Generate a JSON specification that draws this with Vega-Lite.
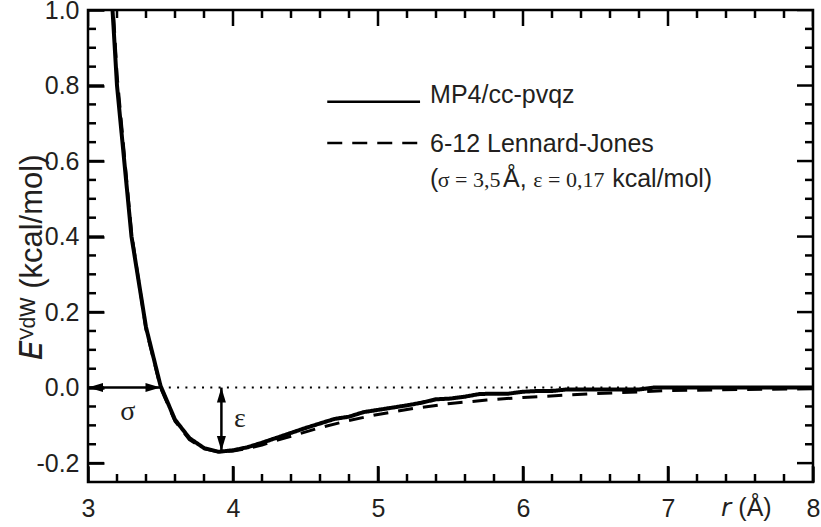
{
  "$schema": "https://vega.github.io/schema/vega-lite/v6.json",
  "width": 725,
  "height": 472,
  "autosize": {"type": "none"},
  "padding": {"left": 88, "top": 10, "right": 8, "bottom": 45},
  "background": "white",
  "config": {"view": {"stroke": "black", "strokeWidth": 2.5}, "font": "Liberation Sans", "axis": {"grid": false, "domain": false, "tickColor": "black", "tickWidth": 2.5}},
  "datasets": {
    "curves": [
      {"x": 3.1, "y": 1.45, "series": "MP4/cc-pvqz"},
      {"x": 3.2, "y": 0.80, "series": "MP4/cc-pvqz"},
      {"x": 3.3, "y": 0.40, "series": "MP4/cc-pvqz"},
      {"x": 3.4, "y": 0.16, "series": "MP4/cc-pvqz"},
      {"x": 3.5, "y": 0.005, "series": "MP4/cc-pvqz"},
      {"x": 3.6, "y": -0.085, "series": "MP4/cc-pvqz"},
      {"x": 3.7, "y": -0.134, "series": "MP4/cc-pvqz"},
      {"x": 3.8, "y": -0.160, "series": "MP4/cc-pvqz"},
      {"x": 3.9, "y": -0.170, "series": "MP4/cc-pvqz"},
      {"x": 4.0, "y": -0.166, "series": "MP4/cc-pvqz"},
      {"x": 4.1, "y": -0.158, "series": "MP4/cc-pvqz"},
      {"x": 4.2, "y": -0.146, "series": "MP4/cc-pvqz"},
      {"x": 4.3, "y": -0.133, "series": "MP4/cc-pvqz"},
      {"x": 4.4, "y": -0.120, "series": "MP4/cc-pvqz"},
      {"x": 4.5, "y": -0.107, "series": "MP4/cc-pvqz"},
      {"x": 4.6, "y": -0.095, "series": "MP4/cc-pvqz"},
      {"x": 4.7, "y": -0.083, "series": "MP4/cc-pvqz"},
      {"x": 4.8, "y": -0.077, "series": "MP4/cc-pvqz"},
      {"x": 4.9, "y": -0.065, "series": "MP4/cc-pvqz"},
      {"x": 5.0, "y": -0.059, "series": "MP4/cc-pvqz"},
      {"x": 5.1, "y": -0.053, "series": "MP4/cc-pvqz"},
      {"x": 5.2, "y": -0.047, "series": "MP4/cc-pvqz"},
      {"x": 5.3, "y": -0.040, "series": "MP4/cc-pvqz"},
      {"x": 5.4, "y": -0.031, "series": "MP4/cc-pvqz"},
      {"x": 5.5, "y": -0.029, "series": "MP4/cc-pvqz"},
      {"x": 5.6, "y": -0.024, "series": "MP4/cc-pvqz"},
      {"x": 5.7, "y": -0.017, "series": "MP4/cc-pvqz"},
      {"x": 5.8, "y": -0.016, "series": "MP4/cc-pvqz"},
      {"x": 5.9, "y": -0.016, "series": "MP4/cc-pvqz"},
      {"x": 6.0, "y": -0.011, "series": "MP4/cc-pvqz"},
      {"x": 6.1, "y": -0.009, "series": "MP4/cc-pvqz"},
      {"x": 6.2, "y": -0.009, "series": "MP4/cc-pvqz"},
      {"x": 6.3, "y": -0.005, "series": "MP4/cc-pvqz"},
      {"x": 6.5, "y": -0.005, "series": "MP4/cc-pvqz"},
      {"x": 6.8, "y": -0.005, "series": "MP4/cc-pvqz"},
      {"x": 6.9, "y": 0.0, "series": "MP4/cc-pvqz"},
      {"x": 7.5, "y": 0.0, "series": "MP4/cc-pvqz"},
      {"x": 8.0, "y": 0.0, "series": "MP4/cc-pvqz"},
      {"x": 3.1, "y": 1.508, "series": "6-12 Lennard-Jones"},
      {"x": 3.2, "y": 0.829, "series": "6-12 Lennard-Jones"},
      {"x": 3.3, "y": 0.410, "series": "6-12 Lennard-Jones"},
      {"x": 3.4, "y": 0.154, "series": "6-12 Lennard-Jones"},
      {"x": 3.5, "y": 0.0, "series": "6-12 Lennard-Jones"},
      {"x": 3.6, "y": -0.089, "series": "6-12 Lennard-Jones"},
      {"x": 3.7, "y": -0.138, "series": "6-12 Lennard-Jones"},
      {"x": 3.8, "y": -0.162, "series": "6-12 Lennard-Jones"},
      {"x": 3.9, "y": -0.170, "series": "6-12 Lennard-Jones"},
      {"x": 4.0, "y": -0.168, "series": "6-12 Lennard-Jones"},
      {"x": 4.1, "y": -0.161, "series": "6-12 Lennard-Jones"},
      {"x": 4.2, "y": -0.152, "series": "6-12 Lennard-Jones"},
      {"x": 4.3, "y": -0.140, "series": "6-12 Lennard-Jones"},
      {"x": 4.4, "y": -0.129, "series": "6-12 Lennard-Jones"},
      {"x": 4.6, "y": -0.106, "series": "6-12 Lennard-Jones"},
      {"x": 4.8, "y": -0.087, "series": "6-12 Lennard-Jones"},
      {"x": 5.0, "y": -0.071, "series": "6-12 Lennard-Jones"},
      {"x": 5.25, "y": -0.055, "series": "6-12 Lennard-Jones"},
      {"x": 5.5, "y": -0.042, "series": "6-12 Lennard-Jones"},
      {"x": 5.75, "y": -0.033, "series": "6-12 Lennard-Jones"},
      {"x": 6.0, "y": -0.026, "series": "6-12 Lennard-Jones"},
      {"x": 6.5, "y": -0.016, "series": "6-12 Lennard-Jones"},
      {"x": 7.0, "y": -0.008, "series": "6-12 Lennard-Jones"},
      {"x": 7.5, "y": -0.005, "series": "6-12 Lennard-Jones"},
      {"x": 8.0, "y": -0.003, "series": "6-12 Lennard-Jones"}
    ],
    "xticks": [
      {"x": 3, "kind": "major"}, {"x": 3.2, "kind": "minor"}, {"x": 3.4, "kind": "minor"}, {"x": 3.6, "kind": "minor"}, {"x": 3.8, "kind": "minor"},
      {"x": 4, "kind": "major"}, {"x": 4.2, "kind": "minor"}, {"x": 4.4, "kind": "minor"}, {"x": 4.6, "kind": "minor"}, {"x": 4.8, "kind": "minor"},
      {"x": 5, "kind": "major"}, {"x": 5.2, "kind": "minor"}, {"x": 5.4, "kind": "minor"}, {"x": 5.6, "kind": "minor"}, {"x": 5.8, "kind": "minor"},
      {"x": 6, "kind": "major"}, {"x": 6.2, "kind": "minor"}, {"x": 6.4, "kind": "minor"}, {"x": 6.6, "kind": "minor"}, {"x": 6.8, "kind": "minor"},
      {"x": 7, "kind": "major"}, {"x": 7.2, "kind": "minor"}, {"x": 7.4, "kind": "minor"}, {"x": 7.6, "kind": "minor"}, {"x": 7.8, "kind": "minor"},
      {"x": 8, "kind": "major"}
    ],
    "yticks": [
      {"y": -0.2, "kind": "major"}, {"y": -0.15, "kind": "minor"}, {"y": -0.1, "kind": "minor"}, {"y": -0.05, "kind": "minor"},
      {"y": 0, "kind": "major"}, {"y": 0.05, "kind": "minor"}, {"y": 0.1, "kind": "minor"}, {"y": 0.15, "kind": "minor"},
      {"y": 0.2, "kind": "major"}, {"y": 0.25, "kind": "minor"}, {"y": 0.3, "kind": "minor"}, {"y": 0.35, "kind": "minor"},
      {"y": 0.4, "kind": "major"}, {"y": 0.45, "kind": "minor"}, {"y": 0.5, "kind": "minor"}, {"y": 0.55, "kind": "minor"},
      {"y": 0.6, "kind": "major"}, {"y": 0.65, "kind": "minor"}, {"y": 0.7, "kind": "minor"}, {"y": 0.75, "kind": "minor"},
      {"y": 0.8, "kind": "major"}, {"y": 0.85, "kind": "minor"}, {"y": 0.9, "kind": "minor"}, {"y": 0.95, "kind": "minor"},
      {"y": 1.0, "kind": "major"}
    ],
    "zeroline": [{"x": 3.5, "x2": 8.0, "y": 0}],
    "arrows": [
      {"x": 3.0, "x2": 3.5, "y": 0, "y2": 0},
      {"x": 3.92, "x2": 3.92, "y": 0, "y2": -0.168}
    ],
    "heads": [
      {"x": 3.0, "y": 0, "dir": "left"},
      {"x": 3.5, "y": 0, "dir": "right"},
      {"x": 3.92, "y": 0, "dir": "up"},
      {"x": 3.92, "y": -0.168, "dir": "down"}
    ],
    "symbols": [
      {"x": 3.274, "y": -0.064, "t": "σ"},
      {"x": 4.048, "y": -0.084, "t": "ε"}
    ],
    "legendlines": [
      {"x": 4.65, "x2": 5.29, "y": 0.757, "series": "MP4/cc-pvqz"},
      {"x": 4.65, "x2": 5.29, "y": 0.648, "series": "6-12 Lennard-Jones"}
    ],
    "legendsans": [
      {"x": 5.359, "y": 0.753, "t": "MP4/cc-pvqz"},
      {"x": 5.359, "y": 0.625, "t": "6-12 Lennard-Jones"},
      {"x": 5.359, "y": 0.532, "t": "("},
      {"x": 5.862, "y": 0.532, "t": "Å,"},
      {"x": 6.615, "y": 0.532, "t": "kcal/mol)"}
    ],
    "legendserif": [
      {"x": 5.412, "y": 0.532, "t": "σ = 3,5"},
      {"x": 6.071, "y": 0.532, "t": "ε = 0,17"}
    ]
  },
  "resolve": {"axis": {"x": "independent", "y": "independent"}},
  "layer": [
    {
      "data": {"name": "curves"},
      "mark": {"type": "line", "clip": true, "color": "black", "strokeJoin": "round"},
      "encoding": {
        "x": {
          "field": "x", "type": "quantitative",
          "scale": {"domain": [3, 8], "nice": false, "zero": false},
          "axis": {
            "orient": "bottom",
            "values": [3, 4, 5, 6, 7, 8],
            "format": "d",
            "ticks": true, "tickSize": -16,
            "labelFont": "Liberation Sans", "labelFontSize": 25, "labelColor": "#231f20",
            "labelBaseline": "alphabetic", "labelPadding": 50,
            "labelFlush": false, "labelOverlap": false,
            "title": "𝘳 (Å)", "titleX": 658, "titleY": 33, "titleBaseline": "alphabetic", "titleAlign": "center",
            "titleFont": "Liberation Sans", "titleFontSize": 25, "titleFontWeight": "normal", "titleColor": "#231f20"
          }
        },
        "y": {
          "field": "y", "type": "quantitative",
          "scale": {"domain": [-0.25, 1.0], "nice": false, "zero": false},
          "axis": {
            "orient": "left",
            "values": [-0.2, 0, 0.2, 0.4, 0.6, 0.8, 1.0],
            "labelExpr": "replace(format(datum.value, '.1f'), '\u2212', '-')",
            "ticks": true, "tickSize": -16,
            "labelFont": "Liberation Sans", "labelFontSize": 25, "labelColor": "#231f20",
            "labelPadding": 25, "labelFlush": false, "labelOverlap": false,
            "title": "𝘌ⱽᵈᵂ (kcal/mol)", "titleX": -56, "titleY": 247, "titleAngle": 270,
            "titleBaseline": "middle", "titleAlign": "center",
            "titleFont": "Liberation Sans", "titleFontSize": 31, "titleFontWeight": "normal", "titleColor": "#231f20"
          }
        },
        "strokeDash": {"field": "series", "type": "nominal", "scale": {"domain": ["MP4/cc-pvqz", "6-12 Lennard-Jones"], "range": [[1, 0], [15, 10]]}, "legend": null},
        "strokeWidth": {"field": "series", "type": "nominal", "scale": {"domain": ["MP4/cc-pvqz", "6-12 Lennard-Jones"], "range": [4, 3]}, "legend": null}
      }
    },
    {
      "data": {"name": "xticks"},
      "mark": {"type": "tick", "orient": "vertical", "clip": true, "color": "black", "thickness": 2.5, "opacity": 1},
      "encoding": {
        "x": {"field": "x", "type": "quantitative", "scale": {"domain": [3, 8], "nice": false, "zero": false}, "axis": null},
        "y": {"datum": -0.25, "type": "quantitative", "scale": {"domain": [-0.25, 1.0], "nice": false, "zero": false}, "axis": null},
        "size": {"field": "kind", "type": "nominal", "scale": {"domain": ["major", "minor"], "range": [32, 16]}, "legend": null}
      }
    },
    {
      "data": {"name": "xticks"},
      "mark": {"type": "tick", "orient": "vertical", "clip": true, "color": "black", "thickness": 2.5, "opacity": 1},
      "encoding": {
        "x": {"field": "x", "type": "quantitative", "scale": {"domain": [3, 8], "nice": false, "zero": false}, "axis": null},
        "y": {"datum": 1.0, "type": "quantitative", "scale": {"domain": [-0.25, 1.0], "nice": false, "zero": false}, "axis": null},
        "size": {"field": "kind", "type": "nominal", "scale": {"domain": ["major", "minor"], "range": [32, 16]}, "legend": null}
      }
    },
    {
      "data": {"name": "yticks"},
      "mark": {"type": "tick", "orient": "horizontal", "clip": true, "color": "black", "thickness": 2.5, "opacity": 1},
      "encoding": {
        "y": {"field": "y", "type": "quantitative", "scale": {"domain": [-0.25, 1.0], "nice": false, "zero": false}, "axis": null},
        "x": {"datum": 3, "type": "quantitative", "scale": {"domain": [3, 8], "nice": false, "zero": false}, "axis": null},
        "size": {"field": "kind", "type": "nominal", "scale": {"domain": ["major", "minor"], "range": [32, 16]}, "legend": null}
      }
    },
    {
      "data": {"name": "yticks"},
      "mark": {"type": "tick", "orient": "horizontal", "clip": true, "color": "black", "thickness": 2.5, "opacity": 1},
      "encoding": {
        "y": {"field": "y", "type": "quantitative", "scale": {"domain": [-0.25, 1.0], "nice": false, "zero": false}, "axis": null},
        "x": {"datum": 8, "type": "quantitative", "scale": {"domain": [3, 8], "nice": false, "zero": false}, "axis": null},
        "size": {"field": "kind", "type": "nominal", "scale": {"domain": ["major", "minor"], "range": [32, 16]}, "legend": null}
      }
    },
    {
      "data": {"name": "zeroline"},
      "mark": {"type": "rule", "color": "black", "strokeWidth": 2, "strokeDash": [2, 6.3]},
      "encoding": {
        "x": {"field": "x", "type": "quantitative", "scale": {"domain": [3, 8], "nice": false, "zero": false}, "axis": null},
        "x2": {"field": "x2"},
        "y": {"field": "y", "type": "quantitative", "scale": {"domain": [-0.25, 1.0], "nice": false, "zero": false}, "axis": null}
      }
    },
    {
      "data": {"name": "arrows"},
      "mark": {"type": "rule", "color": "black", "strokeWidth": 2.5},
      "encoding": {
        "x": {"field": "x", "type": "quantitative", "scale": {"domain": [3, 8], "nice": false, "zero": false}, "axis": null},
        "x2": {"field": "x2"},
        "y": {"field": "y", "type": "quantitative", "scale": {"domain": [-0.25, 1.0], "nice": false, "zero": false}, "axis": null},
        "y2": {"field": "y2"}
      }
    },
    {
      "data": {"name": "heads"},
      "mark": {"type": "point", "filled": true, "color": "black", "opacity": 1, "size": 225, "strokeWidth": 0},
      "encoding": {
        "x": {"field": "x", "type": "quantitative", "scale": {"domain": [3, 8], "nice": false, "zero": false}, "axis": null},
        "y": {"field": "y", "type": "quantitative", "scale": {"domain": [-0.25, 1.0], "nice": false, "zero": false}, "axis": null},
        "shape": {"field": "dir", "type": "nominal", "scale": {"domain": ["left", "right", "up", "down"], "range": ["M0,0L2,-0.6L2,0.6Z", "M0,0L-2,-0.6L-2,0.6Z", "M0,0L-0.6,2L0.6,2Z", "M0,0L-0.6,-2L0.6,-2Z"]}, "legend": null}
      }
    },
    {
      "data": {"name": "symbols"},
      "mark": {"type": "text", "font": "Liberation Serif", "fontSize": 28, "color": "#231f20", "align": "center", "baseline": "middle"},
      "encoding": {
        "x": {"field": "x", "type": "quantitative", "scale": {"domain": [3, 8], "nice": false, "zero": false}, "axis": null},
        "y": {"field": "y", "type": "quantitative", "scale": {"domain": [-0.25, 1.0], "nice": false, "zero": false}, "axis": null},
        "text": {"field": "t"}
      }
    },
    {
      "data": {"name": "legendlines"},
      "mark": {"type": "rule", "color": "black", "strokeWidth": 2.5},
      "encoding": {
        "x": {"field": "x", "type": "quantitative", "scale": {"domain": [3, 8], "nice": false, "zero": false}, "axis": null},
        "x2": {"field": "x2"},
        "y": {"field": "y", "type": "quantitative", "scale": {"domain": [-0.25, 1.0], "nice": false, "zero": false}, "axis": null},
        "strokeDash": {"field": "series", "type": "nominal", "scale": {"domain": ["MP4/cc-pvqz", "6-12 Lennard-Jones"], "range": [[1, 0], [15, 10]]}, "legend": null}
      }
    },
    {
      "data": {"name": "legendsans"},
      "mark": {"type": "text", "font": "Liberation Sans", "fontSize": 25, "color": "#231f20", "align": "left", "baseline": "alphabetic"},
      "encoding": {
        "x": {"field": "x", "type": "quantitative", "scale": {"domain": [3, 8], "nice": false, "zero": false}, "axis": null},
        "y": {"field": "y", "type": "quantitative", "scale": {"domain": [-0.25, 1.0], "nice": false, "zero": false}, "axis": null},
        "text": {"field": "t"}
      }
    },
    {
      "data": {"name": "legendserif"},
      "mark": {"type": "text", "font": "Liberation Serif", "fontSize": 22, "color": "#231f20", "align": "left", "baseline": "alphabetic"},
      "encoding": {
        "x": {"field": "x", "type": "quantitative", "scale": {"domain": [3, 8], "nice": false, "zero": false}, "axis": null},
        "y": {"field": "y", "type": "quantitative", "scale": {"domain": [-0.25, 1.0], "nice": false, "zero": false}, "axis": null},
        "text": {"field": "t"}
      }
    }
  ]
}
